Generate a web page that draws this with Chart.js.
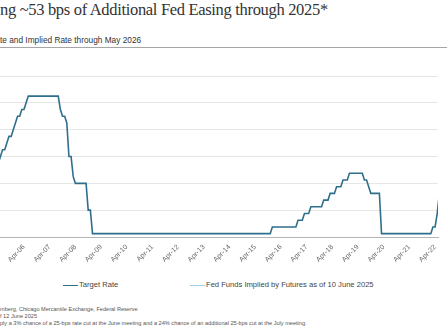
<!DOCTYPE html>
<html>
<head>
<meta charset="utf-8">
<script src="https://cdn.jsdelivr.net/npm/chart.js@4.4.1/dist/chart.umd.min.js"></script>
<style>
  html, body { margin:0; padding:0; width:447px; height:335px; overflow:hidden; background:#fff; }
  .t { position:absolute; left:0; white-space:nowrap; }
  #title { top:0px; font-family:'Liberation Serif', serif; font-size:16.5px; color:#333; letter-spacing:-0.32px; }
  #sub { top:35px; font-family:'Liberation Sans', sans-serif; font-size:8.3px; color:#333; }
  #rule { position:absolute; left:0; top:47px; width:447px; height:0; border-top:1.5px solid #a6a6a6; }
  #wrap { position:absolute; left:0; top:66px; width:447px; height:204px; }
  #legend { position:absolute; top:279px; left:0; width:447px; height:12px; font-family:'Liberation Sans', sans-serif; font-size:7.6px; color:#444; }
  .li { position:absolute; top:0; white-space:nowrap; line-height:12px; }
  .sw { display:inline-block; width:15px; height:0; vertical-align:middle; margin-right:1px; }
  .fn { font-family:'Liberation Sans', sans-serif; font-size:5.6px; color:#555; }
</style>
</head>
<body>
<div id="title" class="t">ng ~53 bps of Additional Fed Easing through 2025*</div>
<div id="sub" class="t">te and Implied Rate through May 2026</div>
<div id="rule"></div>
<div id="wrap"><canvas id="c"></canvas></div>
<div id="legend">
  <div class="li" style="left:63px"><span class="sw" style="border-top:1.6px solid #2f6f8c"></span>Target Rate</div>
  <div class="li" style="left:190px"><span class="sw" style="border-top:1.2px solid #9dd0e8"></span>Fed Funds Implied by Futures as of 10 June 2025</div>
</div>
<div class="t fn" style="top:306px">mberg, Chicago Mercantile Exchange, Federal Reserve</div>
<div class="t fn" style="top:313px">f 12 June 2025</div>
<div class="t fn" style="top:320px">ply a 3% chance of a 25-bps rate cut at the June meeting and a 24% chance of an additional 25-bps cut at the July meeting.</div>

<script>
// ---- DATA ----
const targetStart = "2005-01"; // first month of the target-rate series (monthly, month-end)
const targetRate = [
  2.25,2.5,2.75,2.75,3.0,3.25,3.25,3.5,3.75,3.75,4.0,4.25,            // 2005
  4.5,4.5,4.75,4.75,5.0,5.25,5.25,5.25,5.25,5.25,5.25,5.25,           // 2006
  5.25,5.25,5.25,5.25,5.25,5.25,5.25,5.25,4.75,4.5,4.5,4.25,          // 2007
  3.0,3.0,2.25,2.0,2.0,2.0,2.0,2.0,2.0,1.0,1.0,0.125,                 // 2008
  0.125,0.125,0.125,0.125,0.125,0.125,0.125,0.125,0.125,0.125,0.125,0.125, // 2009
  0.125,0.125,0.125,0.125,0.125,0.125,0.125,0.125,0.125,0.125,0.125,0.125, // 2010
  0.125,0.125,0.125,0.125,0.125,0.125,0.125,0.125,0.125,0.125,0.125,0.125, // 2011
  0.125,0.125,0.125,0.125,0.125,0.125,0.125,0.125,0.125,0.125,0.125,0.125, // 2012
  0.125,0.125,0.125,0.125,0.125,0.125,0.125,0.125,0.125,0.125,0.125,0.125, // 2013
  0.125,0.125,0.125,0.125,0.125,0.125,0.125,0.125,0.125,0.125,0.125,0.125, // 2014
  0.125,0.125,0.125,0.125,0.125,0.125,0.125,0.125,0.125,0.125,0.125,0.375, // 2015
  0.375,0.375,0.375,0.375,0.375,0.375,0.375,0.375,0.375,0.375,0.375,0.625, // 2016
  0.625,0.625,0.875,0.875,0.875,1.125,1.125,1.125,1.125,1.125,1.125,1.375, // 2017
  1.375,1.375,1.625,1.625,1.625,1.875,1.875,1.875,2.125,2.125,2.125,2.375, // 2018
  2.375,2.375,2.375,2.375,2.375,2.375,2.125,2.125,1.875,1.625,1.625,1.625, // 2019
  1.625,1.625,0.125,0.125,0.125,0.125,0.125,0.125,0.125,0.125,0.125,0.125, // 2020
  0.125,0.125,0.125,0.125,0.125,0.125,0.125,0.125,0.125,0.125,0.125,0.125, // 2021
  0.125,0.125,0.375,0.375,0.875,1.625,2.375,2.375,3.125,3.125,3.875,4.375, // 2022
  4.375,4.625,4.875,4.875,5.125,5.125,5.375,5.375,5.375,5.375,5.375,5.375, // 2023
  5.375,5.375,5.375,5.375,5.375,5.375,5.375,5.375,4.875,4.875,4.625,4.375, // 2024
  4.375,4.375,4.375,4.375,4.375,4.375                                    // 2025 H1
];
const impliedStart = "2025-06";
const impliedRate = [4.33,4.31,4.24,4.12,4.03,3.92,3.80,3.76,3.70,3.63,3.58,3.53];
const tickMonths = ["2006-04","2007-04","2008-04","2009-04","2010-04","2011-04","2012-04","2013-04",
                    "2014-04","2015-04","2016-04","2017-04","2018-04","2019-04","2020-04","2021-04",
                    "2022-04","2023-04","2024-04","2025-04"];
const tickLabels = ["Apr-06","Apr-07","Apr-08","Apr-09","Apr-10","Apr-11","Apr-12","Apr-13",
                    "Apr-14","Apr-15","Apr-16","Apr-17","Apr-18","Apr-19","Apr-20","Apr-21",
                    "Apr-22","Apr-23","Apr-24","Apr-25"];
const viewFrom = "2005-05"; // visible window (the picture is a crop)
const viewMonths = 204.6;
const yMin = 0, yMax = 6, yStep = 1;

// ---- helpers ----
function mIdx(s){ const [y,m] = s.split("-").map(Number); return (y-2000)*12 + (m-1); }
function toPts(start, vals){ const s = mIdx(start); return vals.map((v,i)=>({x:s+i, y:v})); }

const tickVals = tickMonths.map(mIdx);
const labelFor = {}; tickVals.forEach((v,i)=>labelFor[v]=tickLabels[i]);
const xMin = mIdx(viewFrom) - 0.2, xMax = xMin + viewMonths;

new Chart(document.getElementById('c'), {
  type: 'line',
  data: {
    datasets: [
      { label:'Target Rate', data: toPts(targetStart, targetRate), borderColor:'#2f6f8c', borderWidth:1.6,
        pointRadius:0, tension:0, fill:false },
      { label:'Fed Funds Implied by Futures as of 10 June 2025', data: toPts(impliedStart, impliedRate),
        borderColor:'#9dd0e8', borderWidth:1.2, pointRadius:0, tension:0, fill:false }
    ]
  },
  options: {
    responsive:true, maintainAspectRatio:false, animation:false, devicePixelRatio:1,
    layout:{ padding:{ top:10, left:0, right:0, bottom:0 } },
    plugins:{ legend:{ display:false }, tooltip:{ enabled:false } },
    scales:{
      x:{ type:'linear', min:xMin, max:xMax,
          afterBuildTicks: (s)=>{ s.ticks = tickVals.filter(v=>v>=xMin && v<=xMax).map(v=>({value:v})); },
          afterFit: (s)=>{ s.height = 33; },
          grid:{ display:false, drawTicks:false },
          border:{ display:true, color:'#b5b5b5', width:1 },
          ticks:{ autoSkip:false, maxRotation:45, minRotation:45, padding:6, color:'#666',
                  font:{ family:'Liberation Sans', size:7 },
                  callback:(v)=>labelFor[v] || '' } },
      y:{ min:yMin, max:yMax,
          afterBuildTicks: (s)=>{ const t=[]; for(let v=yMin; v<=yMax; v+=yStep) t.push({value:v}); s.ticks=t; },
          afterFit: (s)=>{ s.width = 0; },
          ticks:{ display:false },
          grid:{ color:(c)=> c.tick && c.tick.value===0 ? '#b5b5b5' : '#e6e6e6', lineWidth:1, drawTicks:false },
          border:{ display:false } }
    }
  }
});
</script>
</body>
</html>
